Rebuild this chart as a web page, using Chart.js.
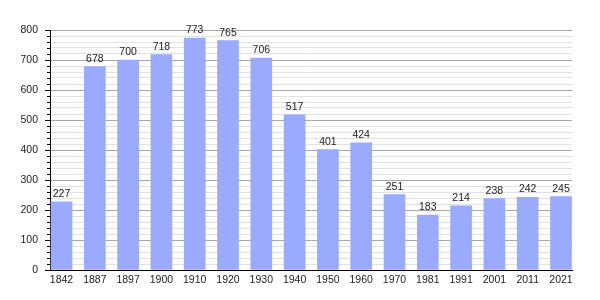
<!DOCTYPE html>
<html>
<head>
<meta charset="utf-8">
<script src="https://cdn.jsdelivr.net/npm/chart.js@4/dist/chart.umd.min.js"></script>
<style>
  html, body { margin: 0; padding: 0; background: #fff; }
  #wrap { width: 600px; height: 300px; position: relative; }
</style>
</head>
<body>
<div id="wrap"><canvas id="c"></canvas></div>
<script>
const categories = ['1842','1887','1897','1900','1910','1920','1930','1940','1950','1960','1970','1981','1991','2001','2011','2021'];
const population = [227, 678, 700, 718, 773, 765, 706, 517, 401, 424, 251, 183, 214, 238, 242, 245];
const yTickStep = 20;
const yLabelStep = 100;

const FONT = '"Liberation Sans", Arial, sans-serif';

const valueLabels = {
  id: 'valueLabels',
  afterDatasetsDraw(chart) {
    const ctx = chart.ctx;
    const meta = chart.getDatasetMeta(0);
    ctx.save();
    ctx.font = '10.5px ' + FONT;
    ctx.fillStyle = '#222';
    ctx.textAlign = 'center';
    ctx.textBaseline = 'alphabetic';
    meta.data.forEach((bar, i) => {
      ctx.fillText(String(population[i]), bar.x, bar.y - 5);
    });
    ctx.restore();
  }
};

const yTickMarks = {
  id: 'yTickMarks',
  afterDraw(chart) {
    const ctx = chart.ctx;
    const y = chart.scales.y;
    const left = chart.chartArea.left;
    ctx.save();
    ctx.strokeStyle = '#000';
    ctx.lineWidth = 1;
    y.ticks.forEach(t => {
      const py = Math.round(y.getPixelForValue(t.value)) + 0.5;
      const len = (t.value % yLabelStep === 0) ? 5 : 3;
      ctx.beginPath();
      ctx.moveTo(left - len, py);
      ctx.lineTo(left, py);
      ctx.stroke();
    });
    ctx.restore();
  }
};

new Chart(document.getElementById('c'), {
  type: 'bar',
  data: {
    datasets: [{
      data: population.map((v, i) => ({ x: i, y: v })),
      backgroundColor: '#99aaff',
      borderWidth: 0,
      barThickness: 21
    }]
  },
  options: {
    responsive: true,
    maintainAspectRatio: false,
    animation: false,
    events: [],
    layout: { padding: { top: 30, right: 28, left: 0, bottom: 0 } },
    plugins: { legend: { display: false }, tooltip: { enabled: false } },
    scales: {
      x: {
        type: 'linear',
        offset: false,
        min: -0.3457,
        max: 15.331,
        afterBuildTicks: (axis) => { axis.ticks = categories.map((c, i) => ({ value: i })); },
        afterFit: (axis) => { axis.height = 30; },
        grid: { display: false, drawTicks: false, offset: false },
        border: { display: true, color: '#000', width: 1 },
        ticks: {
          autoSkip: false,
          maxRotation: 0,
          padding: 4,
          color: '#222',
          font: { family: FONT, size: 10.5 },
          callback: (v) => categories[v] !== undefined ? categories[v] : ''
        }
      },
      y: {
        min: 0,
        max: 800,
        afterFit: (axis) => { axis.width = 50; },
        grid: {
          drawTicks: false,
          lineWidth: 1,
          color: (ctx) => (ctx.tick && ctx.tick.value % yLabelStep === 0) ? '#a6a6a6' : '#e2e2e2'
        },
        border: { display: true, color: '#000', width: 1 },
        ticks: {
          stepSize: yTickStep,
          autoSkip: false,
          padding: 12,
          color: '#222',
          font: { family: FONT, size: 10.5 },
          callback: (v) => (v % yLabelStep === 0) ? String(v) : ''
        }
      }
    }
  },
  plugins: [valueLabels, yTickMarks]
});
</script>
</body>
</html>
